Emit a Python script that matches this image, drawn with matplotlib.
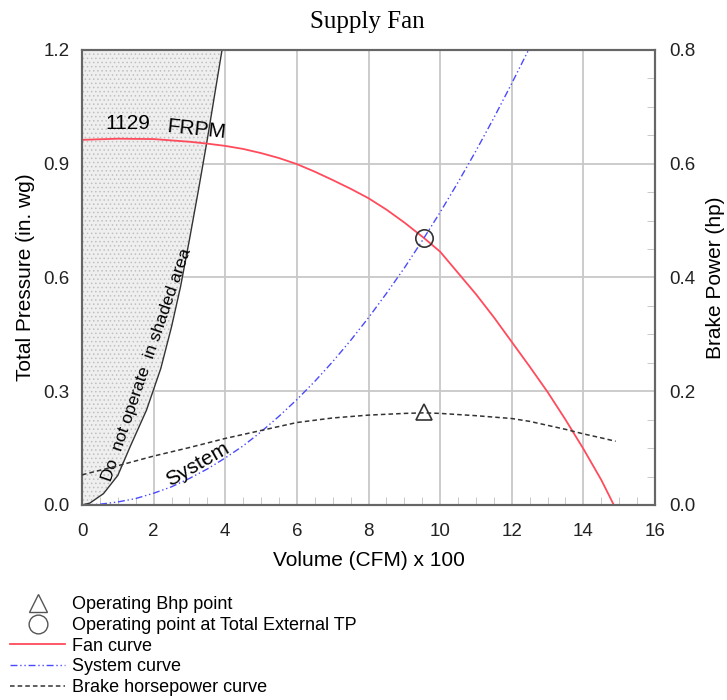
import matplotlib
matplotlib.use("Agg")
import matplotlib.pyplot as plt
from matplotlib.lines import Line2D
from matplotlib.ticker import MultipleLocator

plt.rcParams['font.family'] = ['Liberation Sans', 'DejaVu Sans']
plt.rcParams['hatch.color'] = '#b8b8b8'
plt.rcParams['hatch.linewidth'] = 0.6

# =========================
# Datos
# =========================
fan_cfm = [0, 1, 2, 3, 3.5, 4, 4.5, 5, 5.5, 6, 6.5, 7, 7.5, 8, 8.5, 9, 9.55,
           10, 10.5, 11, 11.5, 12, 12.5, 13, 13.5, 14, 14.5, 14.85]
fan_tp = [0.963, 0.966, 0.965, 0.958, 0.953, 0.947, 0.939, 0.928, 0.915, 0.899,
          0.879, 0.857, 0.834, 0.809, 0.779, 0.745, 0.704, 0.668, 0.612, 0.556,
          0.495, 0.43, 0.365, 0.298, 0.225, 0.148, 0.066, 0.0]

sys_cfm = [0, 0.5, 1, 1.5, 2, 2.5, 3, 3.5, 4, 4.5, 5, 5.5, 6, 6.5, 7, 7.5, 8,
           8.5, 9, 9.5, 10, 10.5, 11, 11.5, 12, 12.5]
sys_tp = [0, 0.002, 0.008, 0.017, 0.031, 0.048, 0.07, 0.095, 0.124, 0.156,
          0.193, 0.234, 0.278, 0.326, 0.378, 0.434, 0.494, 0.558, 0.625, 0.697,
          0.772, 0.851, 0.934, 1.021, 1.112, 1.206]

bhp_cfm = [0, 1, 2, 3, 4, 5, 6, 7, 8, 9, 9.55, 10, 11, 12, 12.5, 13, 13.5, 14,
           14.5, 14.9]
bhp_hp = [0.053, 0.069, 0.086, 0.101, 0.117, 0.131, 0.145, 0.153, 0.158, 0.161,
          0.162, 0.161, 0.157, 0.152, 0.147, 0.14, 0.133, 0.125, 0.118, 0.112]

limit_cfm = [0, 0.22, 0.6, 1.0, 1.35, 1.8, 2.2, 2.5, 2.75, 3.0, 3.25, 3.5, 3.7,
             3.91]
limit_tp = [0, 0.005, 0.03, 0.078, 0.155, 0.25, 0.36, 0.47, 0.575, 0.70, 0.83,
            0.965, 1.08, 1.2]

op_cfm, op_tp = 9.55, 0.704
op_bhp = 0.163

# =========================
# Figura
# =========================
fig = plt.figure(figsize=(7.27, 7.0), dpi=100)
ax = fig.add_axes([0.1128, 0.2786, 0.7882, 0.65])
ax2 = ax.twinx()

# zona sombreada
ax.fill_betweenx(limit_tp, 0, limit_cfm, facecolor='#efefef', hatch='....',
                 edgecolor='#c0c0c0', linewidth=0, zorder=1)
ax.plot(limit_cfm, limit_tp, color='#333333', lw=1.0, zorder=3)

ax.plot(fan_cfm, fan_tp, color='#ff4b5c', lw=1.3, zorder=4)
ax.plot(sys_cfm, sys_tp, color='#4a4aff', lw=1.0,
        linestyle=(0, (5, 2, 1, 2, 1, 2)), zorder=4)
ax.plot(op_cfm, op_tp, marker='o', ms=12.5, mfc='none', mec='#333333',
        mew=1.2, zorder=5)

ax2.plot(bhp_cfm, bhp_hp, color='#333333', lw=1.1,
         linestyle=(0, (3, 2)), zorder=4)
ax2.plot(op_cfm, op_bhp, marker='^', ms=11, mfc='none', mec='#333333',
         mew=1.2, zorder=5)

ax.set_xlim(0, 16)
ax.set_ylim(0, 1.2)
ax2.set_ylim(0, 0.8)
ax.set_xticks(range(0, 17, 2))
ax.set_yticks([0.0, 0.3, 0.6, 0.9, 1.2])
ax2.set_yticks([0.0, 0.2, 0.4, 0.6, 0.8])
ax.set_yticklabels(['0.0', '0.3', '0.6', '0.9', '1.2'])
ax2.set_yticklabels(['0.0', '0.2', '0.4', '0.6', '0.8'])
ax.xaxis.set_minor_locator(MultipleLocator(0.5))
ax.yaxis.set_minor_locator(MultipleLocator(0.1))
ax2.yaxis.set_minor_locator(MultipleLocator(0.05))

ax.grid(True, which='major', color='#c8c8c8', lw=1.3, zorder=0)
ax.set_axisbelow(True)
ax.tick_params(axis='y', which='major', length=0, labelsize=13.5, pad=9,
               colors='#222222')
ax.tick_params(axis='x', which='major', length=0, labelsize=13.5, pad=13,
               colors='#222222')
ax2.tick_params(which='major', length=0, labelsize=13.5, pad=10,
                colors='#222222')
ax.tick_params(which='minor', direction='in', length=6, color='#c0c0c0')
ax2.tick_params(which='minor', direction='in', length=6, color='#c0c0c0')

for a in (ax, ax2):
    for s in a.spines.values():
        s.set_color('#666666')
        s.set_linewidth(1.5)

ax.set_xlabel('Volume (CFM) x 100', fontsize=15, labelpad=8)
ax.set_ylabel('Total Pressure (in. wg)', fontsize=15, labelpad=6)
ax2.set_ylabel('Brake Power (hp)', fontsize=15, labelpad=8)

fig.text(0.505, 0.968, 'Supply Fan', ha='center', va='center', fontsize=18,
         family=['Liberation Serif', 'DejaVu Serif'])

# anotaciones
ax.text(1.27, 1.005, '1129', fontsize=15, ha='center', va='center', zorder=6)
ax.text(3.2, 0.99, 'FRPM', fontsize=15, ha='center', va='center',
        rotation=-6, zorder=6)
ax.text(1.8, 0.37, 'Do  not operate  in shaded area', fontsize=12.5,
        ha='center', va='center', rotation=71, zorder=6)
ax.text(3.22, 0.108, 'System', fontsize=15, ha='center', va='center',
        rotation=30, zorder=6)

# leyenda
handles = [
    Line2D([], [], ls='none', marker='^', ms=13, mfc='none', mec='#555555', mew=1.0),
    Line2D([], [], ls='none', marker='o', ms=13.5, mfc='none', mec='#555555', mew=1.0),
    Line2D([], [], color='#ff4b5c', lw=1.3),
    Line2D([], [], color='#4a4aff', lw=1.0, linestyle=(0, (5, 2, 1, 2, 1, 2))),
    Line2D([], [], color='#333333', lw=1.1, linestyle=(0, (3, 2))),
]
labels = ['Operating Bhp point', 'Operating point at Total External TP',
          'Fan curve', 'System curve', 'Brake horsepower curve']
fig.legend(handles, labels, loc='upper left', bbox_to_anchor=(0.0138, 0.148),
           frameon=False, fontsize=13, handlelength=3.05, handletextpad=0.4,
           labelspacing=0.2, borderpad=0.0, borderaxespad=0.0)

fig.savefig('out.png', dpi=100)
